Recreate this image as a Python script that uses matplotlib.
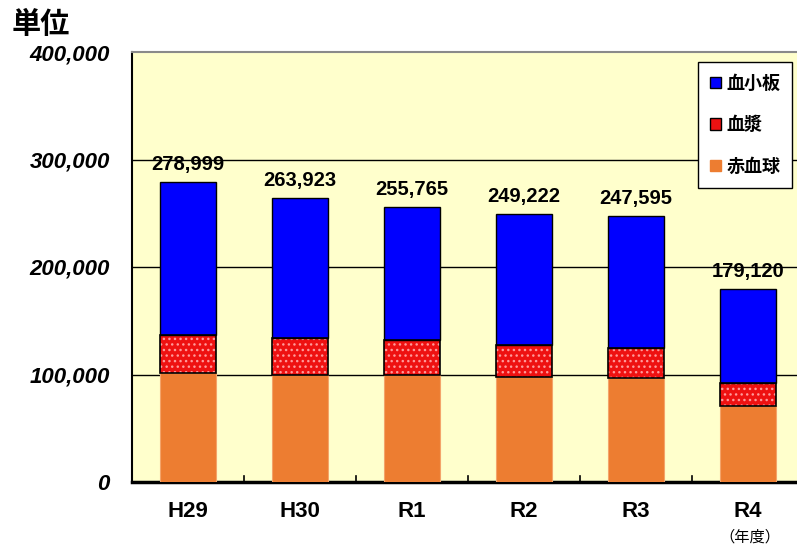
import matplotlib
matplotlib.use("Agg")
from matplotlib import pyplot as plt
from matplotlib.patches import Patch
import numpy as np

plt.rcParams['font.family'] = ['Liberation Sans', 'Noto Sans CJK JP', 'DejaVu Sans']
plt.rcParams['hatch.linewidth'] = 1.0

YEARS = ["H29", "H30", "R1", "R2", "R3", "R4"]
TOTALS = [278999, 263923, 255765, 249222, 247595, 179120]
RBC = [101100, 99300, 99300, 97400, 96500, 70700]      # 赤血球
PLASMA = [35900, 34400, 32500, 29800, 27900, 21100]    # 血漿
PLATELET = [t - r - p for t, r, p in zip(TOTALS, RBC, PLASMA)]  # 血小板
Y_TICKS = [0, 100000, 200000, 300000, 400000]

C_RBC = "#ED7D31"
C_PLASMA = "#EE1111"
C_PLT = "#0000FF"
BG = "#FFFFCC"
W = 0.5

fig = plt.figure(figsize=(7.97, 5.46), dpi=100)
ax = fig.add_axes([132 / 797, 64 / 546, 672 / 797, 430 / 546])
ax.set_facecolor(BG)
ax.set_axisbelow(True)

x = np.arange(len(YEARS))
rbc = np.array(RBC)
pla = np.array(PLASMA)
plt_v = np.array(PLATELET)

ax.bar(x, rbc, W, color=C_RBC, edgecolor="#F4A46A", linewidth=0.8, zorder=3)
# plasma: red with white dots, then black outline
ax.bar(x, pla, W, bottom=rbc, color=C_PLASMA, edgecolor="#FF9A9A",
       hatch="...", linewidth=0, zorder=3)
ax.bar(x, pla, W, bottom=rbc, fill=False, edgecolor="black", linewidth=1.2, zorder=4)
ax.bar(x, plt_v, W, bottom=rbc + pla, color=C_PLT, edgecolor="black",
       linewidth=1.0, zorder=3)

for xi, t in zip(x, TOTALS):
    ax.text(xi, t + 7500, f"{t:,}", ha="center", va="bottom",
            fontsize=14.5, fontweight="bold", zorder=5)

ax.set_xlim(-0.5, len(YEARS) - 0.5)
ax.set_ylim(0, 400000)
ax.set_yticks(Y_TICKS)
ax.set_yticklabels([f"{v:,}" for v in Y_TICKS], fontsize=16,
                   fontweight="bold", fontstyle="italic")
ax.tick_params(axis="y", length=0, pad=16)
for v in Y_TICKS[1:-1]:
    ax.axhline(v, color="black", linewidth=1.0, zorder=1)

ax.set_xticks(x)
ax.set_xticklabels(YEARS, fontsize=16, fontweight="bold")
ax.tick_params(axis="x", length=0, pad=14)
for b in x[:-1] + 0.5:
    ax.plot([b, b], [0, 6000], color="black", linewidth=1.2, zorder=2)

ax.spines["left"].set_color("black")
ax.spines["left"].set_linewidth(1.5)
ax.spines["bottom"].set_color("black")
ax.spines["bottom"].set_linewidth(2.5)
ax.spines["top"].set_color("#8A8A8A")
ax.spines["top"].set_linewidth(1.5)
ax.spines["right"].set_visible(False)

handles = [Patch(facecolor=C_PLT, edgecolor="black", label="血小板"),
           Patch(facecolor=C_PLASMA, edgecolor="black", label="血漿"),
           Patch(facecolor=C_RBC, edgecolor=C_RBC, label="赤血球")]
leg = ax.legend(handles=handles, loc="upper right", bbox_to_anchor=(0.982, 0.977),
                fancybox=False, framealpha=1, edgecolor="black",
                prop={"family": ["Noto Sans CJK JP"], "weight": "bold", "size": 13},
                handlelength=0.6, handleheight=0.6, handletextpad=0.3,
                labelspacing=1.25, borderpad=0.65, borderaxespad=0)
leg.get_frame().set_linewidth(1.0)

fig.text(12 / 797, 1 - 24 / 546, "単位", fontsize=21, fontweight="bold",
         family=["Noto Sans CJK JP"], va="center", ha="left")
fig.text(750 / 797, 1 - 537 / 546, "（年度）", fontsize=11,
         family=["Noto Sans CJK JP"], va="center", ha="center")

fig.savefig("out.png", dpi=100)
